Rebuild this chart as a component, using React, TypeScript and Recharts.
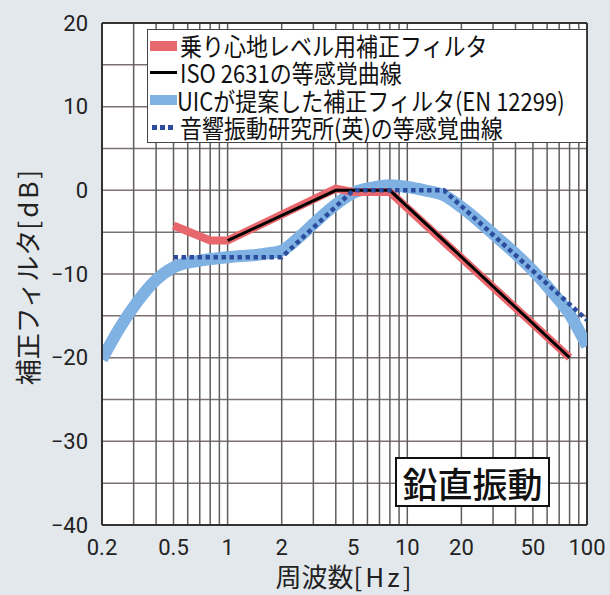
import React from "react";
import {
  LineChart,
  Line,
  XAxis,
  YAxis,
  CartesianGrid,
  ReferenceLine,
} from "recharts";

// 乗り心地レベル用補正フィルタ
const rideFreq = [0.5, 0.8, 1, 4, 5, 8, 80];
const rideGain = [-4.2, -6, -6, 0.2, -0.2, -0.2, -20];

// ISO 2631
const isoFreq = [1, 4, 8, 80];
const isoGain = [-6, 0, 0, -20];

// UIC (EN 12299)
const uicFreq = [
  0.2, 0.25, 0.31, 0.4, 0.5, 0.7, 1, 1.6, 2, 2.5, 3.15, 4, 5, 6.3, 8, 10,
  12.5, 16, 20, 31.5, 50, 63, 80, 100,
];
const uicGain = [
  -20.2, -16.5, -13.5, -10.7, -9.2, -8.4, -8, -7.6, -7.2, -5.6, -3.6, -1.7,
  -0.3, 0.3, 0.6, 0.4, 0, -0.6, -2, -5.6, -9.6, -12, -14.8, -18.6,
];

// 音響振動研究所(英)
const isvrFreq = [0.5, 2, 5, 16, 100];
const isvrGain = [-8, -8, 0, 0, -15.5];

const xTicks = [0.2, 0.5, 1, 2, 5, 10, 20, 50, 100];
const yTicks = [-40, -30, -20, -10, 0, 10, 20];
const xGrid = [
  0.3, 0.4, 0.5, 0.6, 0.7, 0.8, 0.9, 1, 2, 3, 4, 5, 6, 7, 8, 9, 10, 20, 30,
  40, 50, 60, 70, 80, 90,
];
const yGrid = [-35, -30, -25, -20, -15, -10, -5, 0, 5, 10, 15];

const legendItems = [
  { label: "乗り心地レベル用補正フィルタ", kind: "ride" },
  { label: "ISO 2631の等感覚曲線", kind: "iso" },
  { label: "UICが提案した補正フィルタ(EN 12299)", kind: "uic" },
  { label: "音響振動研究所(英)の等感覚曲線", kind: "isvr" },
];

const toPoints = (f: number[], g: number[]) =>
  f.map((freq, i) => ({ freq, gain: g[i] }));

const RED = "#e8676d";
const BLUE = "#7fb1e2";
const NAVY = "#2c4c9e";
const CJK = "'Noto Sans CJK JP', sans-serif";
const NUM = "Roboto, 'Noto Sans', sans-serif";

const fmt = (v: number) => (v < 0 ? "\u2212" + Math.abs(v) : String(v));

const Swatch = ({ kind }: { kind: string }) => {
  if (kind === "ride")
    return <div style={{ width: 27, height: 10, background: RED }} />;
  if (kind === "iso")
    return <div style={{ width: 27, height: 3, background: "#000" }} />;
  if (kind === "uic")
    return <div style={{ width: 27, height: 10, background: BLUE }} />;
  return (
    <svg width={27} height={5}>
      {[0, 8, 16].map((x) => (
        <rect key={x} x={x + 2} y={0} width={5} height={5} fill={NAVY} />
      ))}
    </svg>
  );
};

export default function App() {
  return (
    <div
      style={{
        position: "absolute",
        left: 0,
        top: 0,
        width: 610,
        height: 595,
        background: "#e3e8ec",
        overflow: "hidden",
      }}
    >
      <LineChart
        width={610}
        height={595}
        margin={{ top: 23, right: 23, bottom: 40, left: 42 }}
      >
        <CartesianGrid
          horizontal={false}
          vertical={false}
          fill="#ffffff"
          stroke="none"
        />
        <XAxis
          type="number"
          dataKey="freq"
          scale="log"
          domain={[0.2, 100]}
          ticks={xTicks}
          tickFormatter={fmt}
          allowDataOverflow
          height={30}
          tickLine={false}
          tickSize={6}
          tickMargin={8}
          axisLine={{ stroke: "#333", strokeWidth: 2 }}
          tick={{ fontSize: 22, fill: "#222", fontFamily: NUM }}
        />
        <YAxis
          type="number"
          domain={[-40, 20]}
          ticks={yTicks}
          tickFormatter={fmt}
          width={60}
          tickLine={false}
          tickSize={6}
          tickMargin={8}
          axisLine={{ stroke: "#333", strokeWidth: 2 }}
          tick={{ fontSize: 22, fill: "#222", fontFamily: NUM }}
        />
        {yGrid.map((v) => (
          <ReferenceLine
            key={`h${v}`}
            y={v}
            stroke="#7c7171"
            strokeWidth={1.5}
          />
        ))}
        {xGrid.map((v) => (
          <ReferenceLine
            key={`v${v}`}
            x={v}
            stroke="#5e5e5e"
            strokeWidth={1.5}
          />
        ))}
        <ReferenceLine y={20} stroke="#333" strokeWidth={2} />
        <ReferenceLine x={100} stroke="#333" strokeWidth={2} />

        <Line
          data={toPoints(uicFreq, uicGain)}
          dataKey="gain"
          type="monotone"
          stroke={BLUE}
          strokeWidth={12}
          strokeLinejoin="round"
          dot={false}
          activeDot={false}
          isAnimationActive={false}
        />
        <Line
          data={toPoints(rideFreq, rideGain)}
          dataKey="gain"
          type="linear"
          stroke={RED}
          strokeWidth={8}
          dot={false}
          activeDot={false}
          isAnimationActive={false}
        />
        <Line
          data={toPoints(isoFreq, isoGain)}
          dataKey="gain"
          type="linear"
          stroke="#000"
          strokeWidth={3}
          dot={false}
          activeDot={false}
          isAnimationActive={false}
        />
        <Line
          data={toPoints(isvrFreq, isvrGain)}
          dataKey="gain"
          type="linear"
          stroke={NAVY}
          strokeWidth={4.5}
          strokeDasharray="4.5 3.5"
          dot={false}
          activeDot={false}
          isAnimationActive={false}
        />
      </LineChart>

      {/* legend */}
      <div
        style={{
          position: "absolute",
          left: 147,
          top: 29,
          width: 436,
          padding: "2px 0 1px 2px",
          background: "#fff",
          border: "1.5px solid #444",
          fontFamily: CJK,
          fontSize: 25,
          color: "#111",
        }}
      >
        {legendItems.map((it) => (
          <div
            key={it.kind}
            style={{
              display: "flex",
              alignItems: "center",
              height: 27.3,
              whiteSpace: "nowrap",
              overflow: "visible",
            }}
          >
            <div style={{ width: 30, display: "flex", alignItems: "center" }}>
              <Swatch kind={it.kind} />
            </div>
            <div
              style={{
                display: "block",
                height: 27,
                lineHeight: "27px",
                transform: "scaleX(0.88)",
                transformOrigin: "left center",
              }}
            >
              {it.label}
            </div>
          </div>
        ))}
      </div>

      {/* 振動方向 */}
      <div
        style={{
          position: "absolute",
          left: 395,
          top: 457,
          width: 151,
          height: 46,
          background: "#fff",
          border: "2px solid #111",
          display: "flex",
          alignItems: "center",
          justifyContent: "center",
          fontFamily: CJK,
          fontSize: 35,
          fontWeight: 500,
          lineHeight: 1,
          color: "#111",
        }}
      >
        鉛直振動
      </div>

      {/* axis titles */}
      <div
        style={{
          position: "absolute",
          left: 345,
          top: 576,
          transform: "translate(-50%, -50%)",
          fontFamily: CJK,
          fontSize: 26,
          lineHeight: "26px",
          color: "#222",
          whiteSpace: "nowrap",
        }}
      >
        周波数<span style={{ letterSpacing: 3 }}>[Hz]</span>
      </div>
      <div
        style={{
          position: "absolute",
          left: 27,
          top: 276,
          transform: "translate(-50%, -50%) rotate(-90deg)",
          fontFamily: CJK,
          fontSize: 26,
          lineHeight: "26px",
          color: "#222",
          whiteSpace: "nowrap",
        }}
      >
        補正フィルタ<span style={{ letterSpacing: 3 }}>[dB]</span>
      </div>
    </div>
  );
}
